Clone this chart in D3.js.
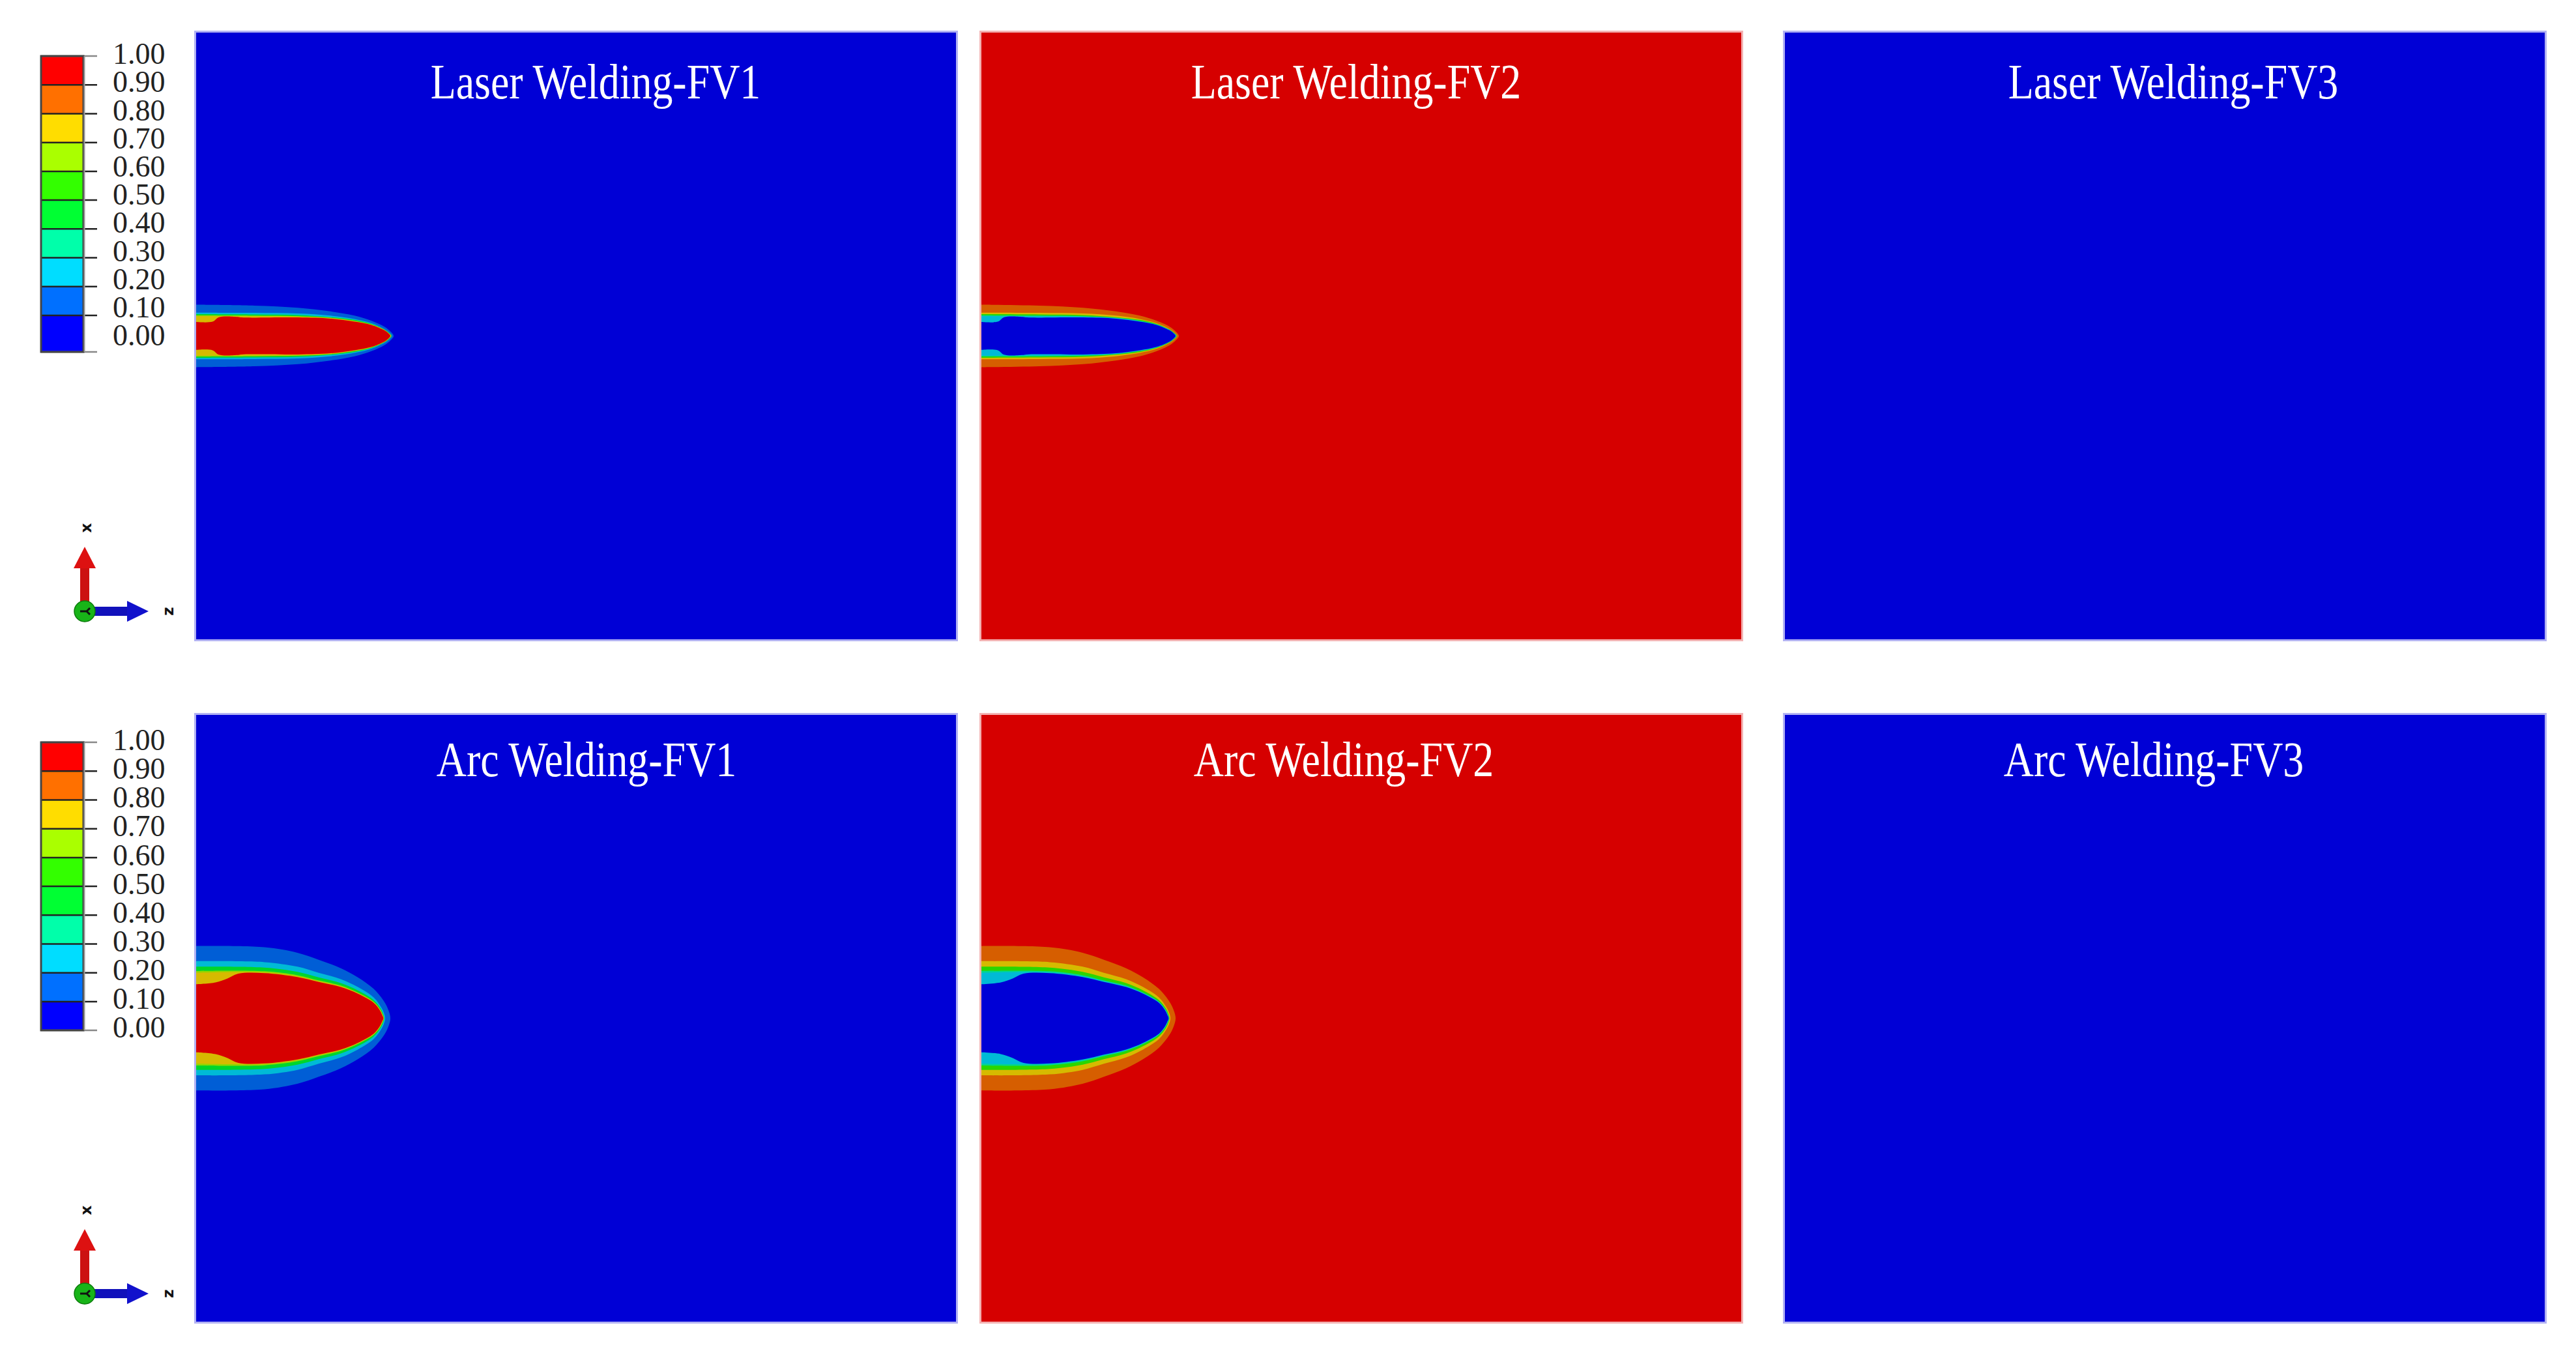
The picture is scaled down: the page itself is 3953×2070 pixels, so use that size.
<!DOCTYPE html>
<html lang="en">
<head>
<meta charset="UTF-8">
<title>Volume fraction contours - laser and arc welding</title>
<script src="https://d3js.org/d3.v7.min.js"></script>
<style>
    body { margin: 0; background: #fff; }
    svg { display: block; }
    .title { font-family: "Liberation Serif", "Times New Roman", serif; font-size: 77px; fill: #fff; }
    .leg-label { font-family: "Liberation Serif", "Times New Roman", serif; font-size: 46px; fill: #222; }
    .triad-label { font-family: "DejaVu Sans", sans-serif; font-weight: bold; font-size: 23px; fill: #111; }
</style>
</head>
<body>
<div id="chart"></div>
<script>
// ---- data ----
const processes = ["Laser Welding", "Arc Welding"];
const variables = ["FV1", "FV2", "FV3"];
// FV1 = pool field, FV2 = 1 - FV1, FV3 = zero everywhere
const variableMode = ["direct", "inverse", "empty"];

const legendTicks = [0, 0.1, 0.2, 0.3, 0.4, 0.5, 0.6, 0.7, 0.8, 0.9, 1.0];
const legendColors = ["#0000ff", "#0070ff", "#00ddff", "#00ffaa", "#00ff33",
                      "#33ff00", "#aaff00", "#ffdd00", "#ff7000", "#ff0000"];

// contour levels drawn, and the FV1 value of each band (background, then inside each level)
const contourLevels = [0.1, 0.2, 0.3, 0.5, 0.7, 0.9];
const bandValues = [0.05, 0.15, 0.25, 0.45, 0.65, 0.75, 0.95];

// upper half of each contour, [z (mm), half width (mm)], mirrored about the weld line
const laserContours = [
    [[0, 1.03], [1.91, 1.00], [3.35, 0.93], [4.42, 0.81], [5.21, 0.67], [5.77, 0.50], [6.20, 0.30], [6.40, 0.14], [6.50, 0]],
    [[0, 0.77], [1.91, 0.76], [3.35, 0.74], [4.42, 0.67], [5.21, 0.56], [5.77, 0.42], [6.20, 0.22], [6.36, 0.10], [6.44, 0]],
    [[0, 0.72], [1.91, 0.71], [3.35, 0.69], [4.42, 0.62], [5.21, 0.53], [5.77, 0.40], [6.20, 0.21], [6.35, 0.10], [6.43, 0]],
    [[0, 0.68], [1.91, 0.67], [3.35, 0.65], [4.42, 0.60], [5.21, 0.50], [5.77, 0.38], [6.20, 0.20], [6.34, 0.09], [6.42, 0]],
    [[0, 0.65], [1.91, 0.65], [3.35, 0.64], [4.42, 0.59], [5.21, 0.49], [5.77, 0.37], [6.20, 0.19], [6.33, 0.09], [6.41, 0]],
    [[0, 0.46], [0.54, 0.47], [0.75, 0.62], [1.35, 0.63], [1.50, 0.61], [3.35, 0.61], [4.42, 0.57], [5.21, 0.47], [5.77, 0.36], [6.20, 0.18], [6.32, 0.09], [6.39, 0]]
];
const arcContours = [
    [[0, 2.38], [2.25, 2.34], [3.33, 2.16], [4.03, 1.93], [4.76, 1.65], [5.32, 1.35], [5.84, 0.97], [6.18, 0.56], [6.33, 0.26], [6.39, 0]],
    [[0, 1.88], [2.25, 1.85], [3.33, 1.70], [4.03, 1.50], [4.76, 1.29], [5.32, 1.03], [5.84, 0.69], [6.09, 0.36], [6.18, 0.17], [6.22, 0]],
    [[0, 1.70], [2.25, 1.67], [3.33, 1.53], [4.03, 1.35], [4.76, 1.16], [5.32, 0.92], [5.84, 0.60], [6.07, 0.32], [6.15, 0.15], [6.19, 0]],
    [[0, 1.56], [2.25, 1.55], [3.33, 1.42], [4.03, 1.25], [4.76, 1.08], [5.32, 0.85], [5.84, 0.55], [6.06, 0.29], [6.14, 0.13], [6.18, 0]],
    [[0, 1.50], [2.25, 1.51], [3.33, 1.38], [4.03, 1.22], [4.76, 1.05], [5.32, 0.83], [5.84, 0.53], [6.05, 0.28], [6.13, 0.12], [6.17, 0]],
    [[0, 1.12], [0.64, 1.18], [1.03, 1.31], [1.39, 1.47], [2.25, 1.49], [3.33, 1.36], [4.03, 1.20], [4.76, 1.03], [5.32, 0.81], [5.84, 0.51], [6.04, 0.27], [6.12, 0.11], [6.16, 0]]
];
const zDomain = [0, 25];
const xDomain = [-10, 10];

// ---- layout ----
const W = 3953, H = 2070;
const colX = [301, 1506, 2739];
const rowY = [50, 1097];
const panelW = 1166, panelH = 931;
const titleDx = [[613, 575, 596], [599, 556, 566]];
const titleDy = [101, 94];
const legendY = [[86, 484, 540], [1139, 1537, 1581]];   // y of 1.0, 0.1, 0.0
const legendLabelY = [[82, 514], [1135, 1576]];         // y of label 1.00, 0.00
const triadPos = [[130, 938], [130, 1985]];

const svg = d3.select("#chart").append("svg")
    .attr("width", W)
    .attr("height", H);
svg.append("rect").attr("width", W).attr("height", H).attr("fill", "#fff");

const colorOf = d3.scaleQuantize().domain([0, 1]).range(legendColors);
function shade(c, k) {
    const r = d3.rgb(c);
    return d3.rgb(r.r * k, r.g * k, r.b * k).formatHex();
}
const panelColor = v => shade(colorOf(v), 0.84);

// closed outline: upper half left -> tip, then mirrored lower half back to the left edge
function outline(pts) {
    const upper = pts.map(d => [d[0], d[1]]);
    const lower = pts.slice(0, -1).reverse().map(d => [d[0], -d[1]]);
    return upper.concat(lower);
}

const defs = svg.append("defs");

processes.forEach((proc, r) => {
    const contours = r === 0 ? laserContours : arcContours;

    variables.forEach((vname, c) => {
        const x0 = colX[c], y0 = rowY[r];
        const zs = d3.scaleLinear().domain(zDomain).range([x0, x0 + panelW]);
        const xs = d3.scaleLinear().domain(xDomain).range([y0 + panelH, y0]);
        const mode = variableMode[c];
        const val = v => mode === "inverse" ? 1 - v : (mode === "empty" ? 0 : v);

        const clipId = `clip-${r}-${c}`;
        defs.append("clipPath").attr("id", clipId)
            .append("rect")
            .attr("x", x0).attr("y", y0).attr("width", panelW).attr("height", panelH);

        const g = svg.append("g");
        const bg = panelColor(val(bandValues[0]));

        // soft edge like the rendered image
        g.append("rect")
            .attr("x", x0 - 1).attr("y", y0 - 1)
            .attr("width", panelW + 2).attr("height", panelH + 2)
            .attr("fill", "none")
            .attr("stroke", bg)
            .attr("stroke-opacity", 0.3)
            .attr("stroke-width", 4);

        g.append("rect")
            .attr("x", x0).attr("y", y0)
            .attr("width", panelW).attr("height", panelH)
            .attr("fill", bg);

        if (mode !== "empty") {
            const line = d3.line()
                .x(d => zs(d[0]))
                .y(d => xs(d[1]))
                .curve(d3.curveCatmullRom.alpha(0.5));
            contours.forEach((pts, i) => {
                g.append("path")
                    .datum(outline(pts))
                    .attr("d", d => line(d) + "Z")
                    .attr("fill", panelColor(val(bandValues[i + 1])))
                    .attr("clip-path", `url(#${clipId})`);
            });
        }

        const t = g.append("text")
            .attr("class", "title")
            .attr("x", x0 + titleDx[r][c])
            .attr("y", y0 + titleDy[r])
            .attr("text-anchor", "middle")
            .text(`${proc}-${vname}`);
        const natural = t.node().getComputedTextLength();
        t.attr("textLength", natural * 0.83).attr("lengthAdjust", "spacingAndGlyphs");
    });

    // ---- legend ----
    const ly = d3.scaleLinear().domain([0, 0.1, 1]).range([legendY[r][2], legendY[r][1], legendY[r][0]]);
    const labelY = d3.scaleLinear().domain([0, 1]).range([legendLabelY[r][1], legendLabelY[r][0]]);
    const leg = svg.append("g");
    const boxX = 63, boxW = 65;

    leg.selectAll("rect.band")
        .data(legendColors)
        .enter()
        .append("rect")
        .attr("class", "band")
        .attr("x", boxX)
        .attr("y", (d, i) => ly((i + 1) / 10))
        .attr("width", boxW)
        .attr("height", (d, i) => ly(i / 10) - ly((i + 1) / 10))
        .attr("fill", d => d);

    leg.selectAll("line.sep")
        .data(legendTicks)
        .enter()
        .append("line")
        .attr("x1", boxX)
        .attr("x2", 149)
        .attr("y1", d => ly(d))
        .attr("y2", d => ly(d))
        .attr("stroke", (d, i) => (i === 0 || i === legendTicks.length - 1) ? "#888" : "#222")
        .attr("stroke-width", 2.5);

    leg.append("rect")
        .attr("x", boxX).attr("y", ly(1))
        .attr("width", boxW).attr("height", ly(0) - ly(1))
        .attr("fill", "none")
        .attr("stroke", "#444")
        .attr("stroke-width", 3);
    leg.append("line")
        .attr("x1", boxX + boxW + 1.5).attr("x2", boxX + boxW + 1.5)
        .attr("y1", ly(1)).attr("y2", ly(0))
        .attr("stroke", "#999").attr("stroke-width", 2);

    leg.selectAll("text")
        .data(legendTicks)
        .enter()
        .append("text")
        .attr("class", "leg-label")
        .attr("x", 173)
        .attr("y", d => labelY(d))
        .attr("dy", "0.35em")
        .text(d => d3.format(".2f")(d));

    // ---- axis triad ----
    const [cx, cy] = triadPos[r];
    const tri = svg.append("g");
    tri.append("rect").attr("x", cx - 7).attr("y", cy - 68).attr("width", 14).attr("height", 68).attr("fill", "#cc1111");
    tri.append("path").attr("d", `M${cx - 17},${cy - 66}L${cx + 17},${cy - 66}L${cx},${cy - 99}Z`).attr("fill", "#dd1111");
    tri.append("rect").attr("x", cx).attr("y", cy - 7).attr("width", 67).attr("height", 14).attr("fill", "#1111bb");
    tri.append("path").attr("d", `M${cx + 65},${cy - 16}L${cx + 65},${cy + 16}L${cx + 98},${cy}Z`).attr("fill", "#1111cc");
    tri.append("circle").attr("cx", cx).attr("cy", cy).attr("r", 16).attr("fill", "#18b418").attr("stroke", "#0c7a0c").attr("stroke-width", 1.5);
    tri.append("path")
        .attr("d", `M${cx - 7},${cy}L${cx + 3},${cy}M${cx + 3},${cy}L${cx + 8},${cy - 5}M${cx + 3},${cy}L${cx + 8},${cy + 5}`)
        .attr("stroke", "#111").attr("stroke-width", 3).attr("fill", "none");
    tri.append("text").attr("class", "triad-label")
        .attr("transform", `translate(${cx + 2},${cy - 128}) rotate(-90)`)
        .attr("text-anchor", "middle").attr("dy", "0.35em").text("x");
    tri.append("text").attr("class", "triad-label")
        .attr("transform", `translate(${cx + 128},${cy}) rotate(-90)`)
        .attr("text-anchor", "middle").attr("dy", "0.35em").text("z");
});
</script>
</body>
</html>
